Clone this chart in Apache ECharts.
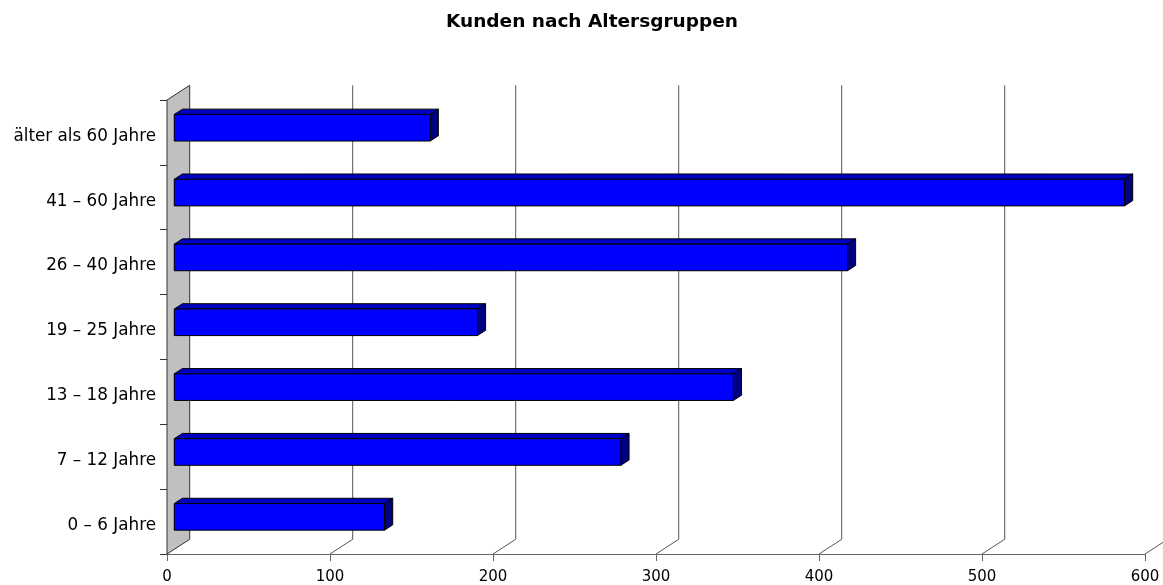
<!DOCTYPE html>
<html>
<head>
<meta charset="utf-8">
<script src="https://cdn.jsdelivr.net/npm/echarts@6/dist/echarts.min.js"></script>
<style>html,body{margin:0;padding:0;background:#fff;}#c{width:1163px;height:585px;}</style>
</head>
<body>
<div id="c"></div>
<script>
const title = 'Kunden nach Altersgruppen';
const categories = ['0 – 6 Jahre', '7 – 12 Jahre', '13 – 18 Jahre', '19 – 25 Jahre', '26 – 40 Jahre', '41 – 60 Jahre', 'älter als 60 Jahre'];
const values = [129, 274, 343, 186, 413, 583, 157];
const xTicks = [0, 100, 200, 300, 400, 500, 600];

// projection of the depth axis (pixels)
const WALL_DX = 22.7, WALL_DY = -14.7;
const BAR_FRONT = 0.32, BAR_BACK = 0.68;
const BAR_RATIO = 0.41;

const chart = echarts.init(document.getElementById('c'));

function renderBar(params, api) {
  const v = api.value(0), c = api.value(1);
  const p0 = api.coord([0, c]);
  const p1 = api.coord([v, c]);
  const band = api.size([0, 1])[1];
  const h = band * BAR_RATIO;
  const fx = WALL_DX * BAR_FRONT, fy = WALL_DY * BAR_FRONT;
  const bx = WALL_DX * (BAR_BACK - BAR_FRONT), by = WALL_DY * (BAR_BACK - BAR_FRONT);
  const x = p0[0] + fx, y = p0[1] + fy - h / 2, w = p1[0] - p0[0];
  const stroke = { stroke: '#000', lineWidth: 1 };
  return {
    type: 'group',
    children: [
      { type: 'polygon', shape: { points: [[x, y], [x + bx, y + by], [x + w + bx, y + by], [x + w, y]] },
        style: Object.assign({ fill: '#0000c4' }, stroke) },
      { type: 'polygon', shape: { points: [[x + w, y], [x + w + bx, y + by], [x + w + bx, y + h + by], [x + w, y + h]] },
        style: Object.assign({ fill: '#000080' }, stroke) },
      { type: 'rect', shape: { x: x, y: y, width: w, height: h },
        style: Object.assign({ fill: '#0000ff' }, stroke) }
    ]
  };
}

function renderGrid(params, api) {
  const t = api.value(0);
  const cs = params.coordSys;
  const px = api.coord([t, 0])[0];
  const bottom = cs.y + cs.height, top = cs.y;
  const children = [];
  if (t === 0) {
    children.push({ type: 'polygon', shape: { points: [[px, bottom], [px + WALL_DX, bottom + WALL_DY], [px + WALL_DX, top + WALL_DY], [px, top]] },
      style: { fill: '#c0c0c0', stroke: '#333', lineWidth: 1 } });
  } else {
    children.push({ type: 'line', shape: { x1: px + WALL_DX, y1: bottom + WALL_DY, x2: px + WALL_DX, y2: top + WALL_DY },
      style: { stroke: '#555', lineWidth: 1 } });
    children.push({ type: 'line', shape: { x1: px, y1: bottom, x2: px + WALL_DX, y2: bottom + WALL_DY },
      style: { stroke: '#555', lineWidth: 1 } });
  }
  return { type: 'group', children: children };
}

chart.setOption({
  animation: false,
  backgroundColor: '#fff',
  title: {
    text: title, left: 441, top: 8,
    textStyle: { fontFamily: 'DejaVu Sans', fontSize: 18.5, fontWeight: 'bold', color: '#000' }
  },
  grid: { left: 167, right: 18, top: 100, bottom: 31, containLabel: false, outerBoundsMode: 'none' },
  xAxis: {
    type: 'value', min: 0, max: 600, interval: 100,
    axisLine: { show: true, lineStyle: { color: '#666' } },
    axisTick: { show: true, length: 7, lineStyle: { color: '#666' } },
    splitLine: { show: false },
    axisLabel: { fontFamily: 'DejaVu Sans', fontSize: 15, color: '#000', margin: 16,
      formatter: function (v) { return xTicks.indexOf(v) >= 0 ? String(v) : ''; } }
  },
  yAxis: {
    type: 'category', data: categories,
    axisLine: { show: true, lineStyle: { color: '#333' } },
    axisTick: { show: true, length: 7, lineStyle: { color: '#333' } },
    splitLine: { show: false },
    axisLabel: { margin: 11,
      formatter: function (v) { return '{a|' + v + '}'; },
      rich: { a: { fontFamily: 'DejaVu Sans', fontSize: 16.8, color: '#000', padding: [8, 0, 0, 0] } } }
  },
  series: [
    { type: 'custom', renderItem: renderGrid, data: xTicks.map(t => [t, 0]), encode: { x: 0, y: 1 }, z: 1, silent: true },
    { type: 'custom', renderItem: renderBar, data: values.map((v, i) => [v, i]), encode: { x: 0, y: 1 }, z: 3 }
  ]
});
</script>
</body>
</html>
